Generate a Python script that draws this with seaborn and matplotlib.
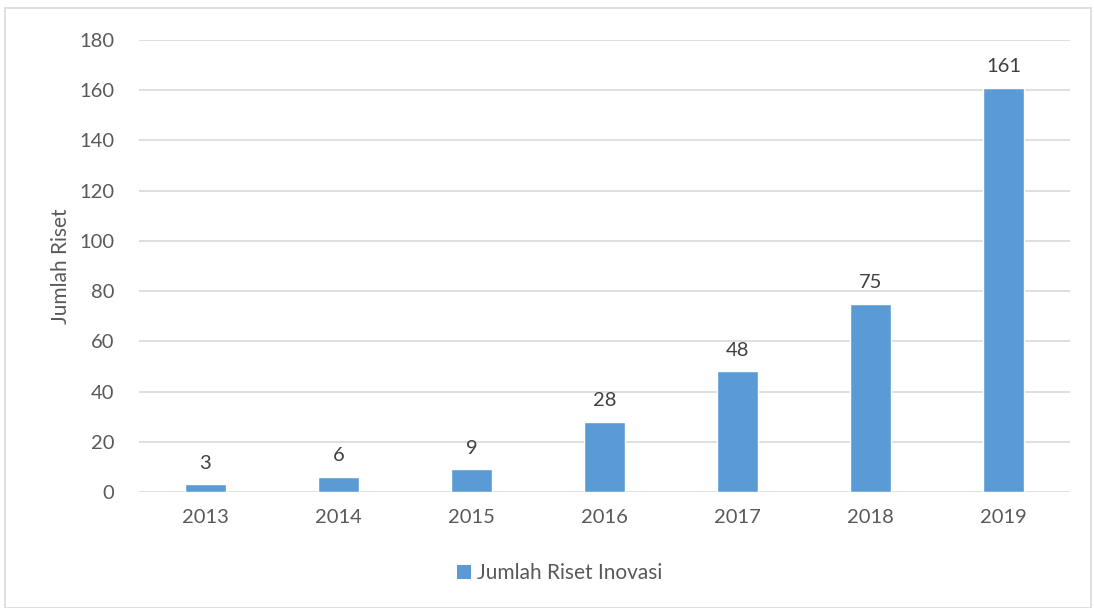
import matplotlib
matplotlib.use("Agg")
import matplotlib.pyplot as plt
import seaborn as sns
import pandas as pd
from matplotlib.patches import Rectangle, Patch

years = ["2013", "2014", "2015", "2016", "2017", "2018", "2019"]
values = [3, 6, 9, 28, 48, 75, 161]
series_name = "Jumlah Riset Inovasi"
y_label = "Jumlah Riset"
y_ticks = [0, 20, 40, 60, 80, 100, 120, 140, 160, 180]

sns.set_theme(style="white")
plt.rcParams["font.family"] = ["Lato", "DejaVu Sans"]

W, H = 1094, 608
fig = plt.figure(figsize=(W / 100, H / 100), dpi=100)
ax = fig.add_axes([139 / W, (H - 492) / H, 931 / W, 452 / H])

df = pd.DataFrame({"year": years, "value": values})
bar_color = "#5B9BD5"
sns.barplot(data=df, x="year", y="value", color=bar_color, width=0.31,
            saturation=1, ax=ax, zorder=3)

ax.set_xlim(-0.5, len(years) - 0.5)
ax.set_ylim(0, 180)
ax.set_yticks(y_ticks)
ax.grid(axis="y", color="#D9D9D9", linewidth=1.2, zorder=0)
ax.grid(axis="x", visible=False)
for s in ax.spines.values():
    s.set_visible(False)
ax.tick_params(axis="both", length=0, labelsize=14.5, labelcolor="#595959")
ax.tick_params(axis="y", pad=18)
ax.tick_params(axis="x", pad=12)
ax.set_xlabel("")
ax.set_ylabel(y_label, fontsize=15, color="#595959", labelpad=6)

for i, v in enumerate(values):
    ax.annotate(str(v), (i, v), xytext=(0, 9), textcoords="offset points",
                ha="center", va="bottom", fontsize=14.5, color="#404040")

fig.legend(handles=[Patch(facecolor=bar_color, edgecolor="none")], labels=[series_name],
           loc="center", bbox_to_anchor=(560 / W, (H - 573) / H), frameon=False,
           fontsize=15, labelcolor="#595959", handlelength=0.65, handleheight=0.65,
           handletextpad=0.3)

fig.patches.append(Rectangle((5 / W, 0), (W - 8) / W, (H - 8) / H,
                             transform=fig.transFigure, fill=False,
                             edgecolor="#D9D9D9", linewidth=1.2))

fig.savefig("out.png", dpi=100, facecolor="white")
